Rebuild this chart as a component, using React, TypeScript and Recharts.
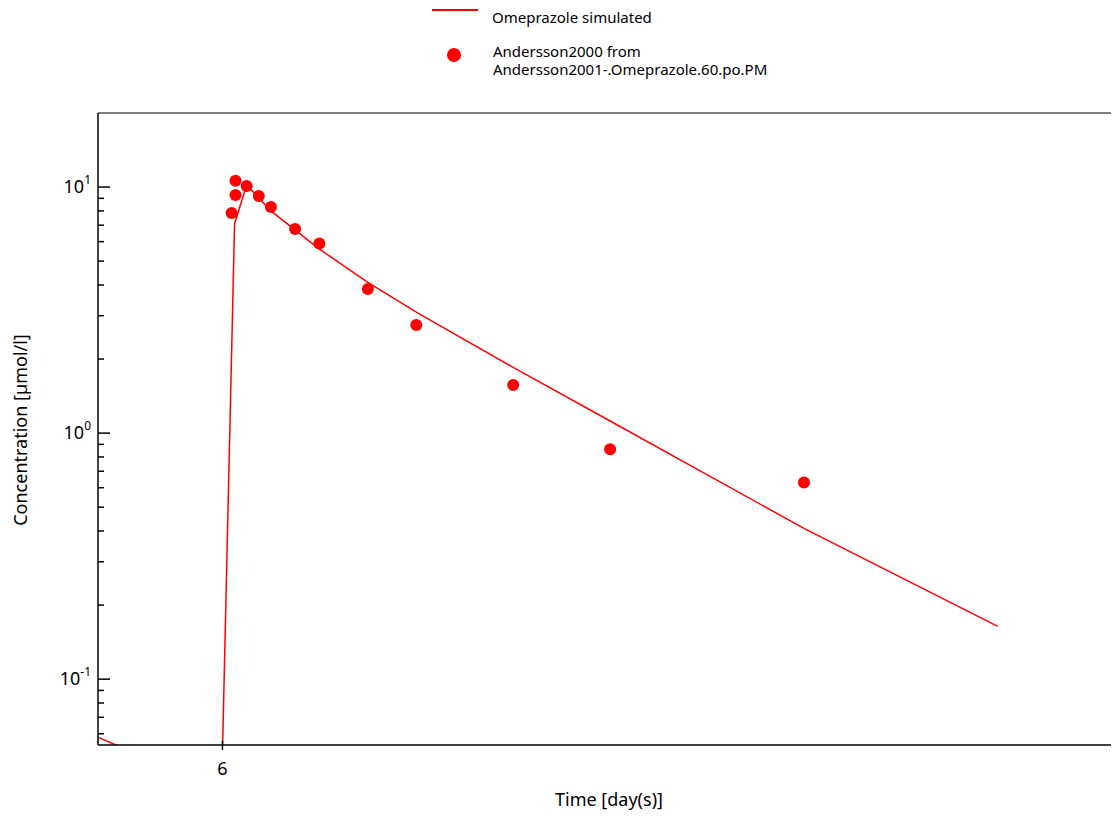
import { ComposedChart, Line, Scatter, XAxis, YAxis } from 'recharts'

const DAY0 = 6
const H = 1 / 24

// simulated curve: hours after dose on day 6, concentration
const simHours = [0, 0.25, 0.5, 1, 2, 3, 4, 6, 8, 12, 16]
const simValues = [0.05, 7.1, 10.2, 8.0, 5.6, 4.1, 3.1, 1.85, 1.12, 0.41, 0.164]
// tail of previous dose
const tailHours = [-2.56, -2.1]
const tailValues = [0.058, 0.053]

const obsHours = [0.19, 0.27, 0.27, 0.5, 0.75, 1, 1.5, 2, 3, 4, 6, 8, 12]
const obsValues = [7.84, 10.6, 9.28, 10.1, 9.2, 8.3, 6.75, 5.9, 3.85, 2.75, 1.57, 0.86, 0.63]

const yTicks: number[] = []
for (const d of [0.01, 0.1, 1, 10]) for (let k = 1; k <= 9; k++) {
  const v = +(d * k).toPrecision(3)
  if (v >= 0.06 && v <= 19) yTicks.push(v)
}

const toRows = (hs: number[], vs: number[]) => hs.map((h, i) => ({ x: DAY0 + h * H, y: vs[i] }))
const simData = toRows(simHours, simValues)
const tailData = toRows(tailHours, tailValues)
const obsData = toRows(obsHours, obsValues)

const font = '"Noto Sans", sans-serif'

const YTick = (props: any) => {
  const { y, payload } = props
  const v = payload.value
  const e = Math.log10(v)
  const major = Math.abs(e - Math.round(e)) < 1e-6
  return (
    <g>
      <line x1={98} x2={major ? 110 : 104} y1={y} y2={y} stroke="#000" strokeWidth={1.5} />
      {major && (
        <text x={91} y={y + 6} textAnchor="end" fontSize={18} fontFamily={font} fill="#000">
          10<tspan dy={-9} fontSize={12}>{Math.round(e)}</tspan>
        </text>
      )}
    </g>
  )
}

const XTick = (props: any) => {
  const { x, payload } = props
  return (
    <g>
      <line x1={x} x2={x} y1={741} y2={750} stroke="#000" strokeWidth={1.5} />
      <text x={x} y={775} textAnchor="middle" fontSize={18} fontFamily={font} fill="#000">
        {payload.value}
      </text>
    </g>
  )
}

export default function App() {
  return (
    <div style={{ position: 'absolute', left: 0, top: 0, width: 1112, height: 819, background: '#fff', fontFamily: font }}>
      <div style={{ position: 'absolute', left: 432, top: 9, width: 46, height: 2, background: 'red' }} />
      <div style={{ position: 'absolute', left: 492, top: 7, fontSize: 15 }}>Omeprazole simulated</div>
      <div style={{ position: 'absolute', left: 447, top: 48, width: 14, height: 14, borderRadius: 7, background: 'red' }} />
      <div style={{ position: 'absolute', left: 493, top: 42, fontSize: 15, lineHeight: '18px' }}>
        Andersson2000 from<br />Andersson2001-.Omeprazole.60.po.PM
      </div>
      <div style={{ position: 'absolute', left: 0, top: 787, width: 1218, textAlign: 'center', fontSize: 18 }}>Time [day(s)]</div>
      <div style={{ position: 'absolute', left: 20, top: 430, transform: 'translate(-50%,-50%) rotate(-90deg)', fontSize: 18, whiteSpace: 'nowrap' }}>
        Concentration [µmol/l]
      </div>
      <ComposedChart width={1112} height={819} margin={{ top: 112, right: 1, left: 97, bottom: 0 }} style={{ position: 'absolute', left: 0, top: 0 }}>
        <XAxis xAxisId="top" orientation="top" type="number" dataKey="x" domain={[5.893, 6.764]} height={1} tick={false} tickLine={false} axisLine={{ stroke: '#000' }} allowDataOverflow />
        <XAxis type="number" dataKey="x" domain={[5.893, 6.764]} ticks={[6]} tick={<XTick />} tickLine={false} height={74} axisLine={{ stroke: '#000', strokeWidth: 1.5 }} allowDataOverflow />
        <YAxis type="number" dataKey="y" scale="log" domain={[0.054, 20]} ticks={yTicks} interval={0} tick={<YTick />} tickLine={false} width={1} axisLine={{ stroke: '#000', strokeWidth: 1.5 }} allowDataOverflow />
        <Line data={tailData} dataKey="y" stroke="red" strokeWidth={1.5} dot={false} isAnimationActive={false} type="linear" />
        <Line data={simData} dataKey="y" stroke="red" strokeWidth={1.5} dot={false} isAnimationActive={false} type="linear" />
        <Scatter data={obsData} dataKey="y" fill="red" isAnimationActive={false} shape={(p: any) => <circle cx={p.cx} cy={p.cy} r={6} fill="red" />} />
      </ComposedChart>
    </div>
  )
}
